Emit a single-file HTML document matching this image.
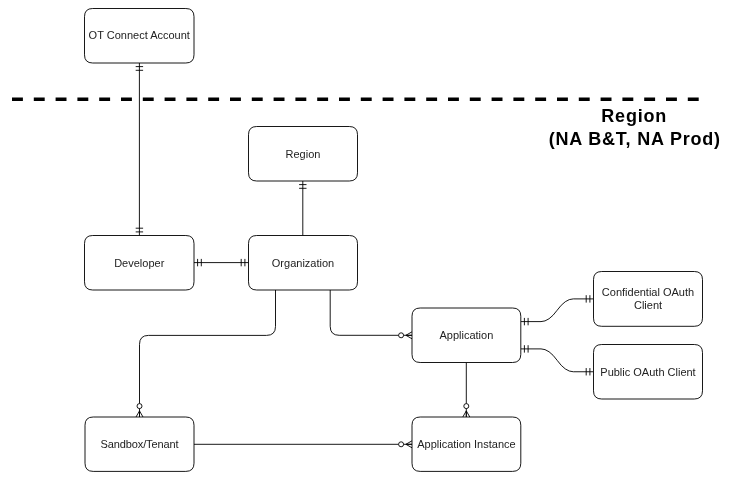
<!DOCTYPE html>
<html><head><meta charset="utf-8"><style>
html,body{margin:0;padding:0;background:#fff;width:729px;height:479px;overflow:hidden}
svg{display:block;will-change:transform}
text{font-family:"Liberation Sans",sans-serif;font-size:11px;fill:#222}
text.b{font-weight:bold;font-size:18px;letter-spacing:0.8px;fill:#000}
</style></head><body>
<svg width="729" height="479" viewBox="0 0 729 479">
<path d="M139.4,63 V235.5" fill="none" stroke="#000" stroke-width="0.91"/>
<path d="M143.10,66.60 L135.70,66.60 M143.10,70.30 L135.70,70.30 " fill="none" stroke="#000" stroke-width="0.91"/>
<path d="M135.70,231.90 L143.10,231.90 M135.70,228.20 L143.10,228.20 " fill="none" stroke="#000" stroke-width="0.91"/>
<path d="M302.8,181 V235.5" fill="none" stroke="#000" stroke-width="0.91"/>
<path d="M306.50,184.60 L299.10,184.60 M306.50,188.30 L299.10,188.30 " fill="none" stroke="#000" stroke-width="0.91"/>
<path d="M194,262.6 H248.5" fill="none" stroke="#000" stroke-width="0.91"/>
<path d="M197.60,258.90 L197.60,266.30 M201.30,258.90 L201.30,266.30 " fill="none" stroke="#000" stroke-width="0.91"/>
<path d="M244.90,266.30 L244.90,258.90 M241.20,266.30 L241.20,258.90 " fill="none" stroke="#000" stroke-width="0.91"/>
<path d="M275.5,290 V326.4 Q275.5,335.4 266.5,335.4 H148.5 Q139.5,335.4 139.5,344.4 V417" fill="none" stroke="#000" stroke-width="0.91"/>
<path d="M136.00,417.00 L139.50,410.90 L143.00,417.00 M139.50,410.90 L139.50,417.00" fill="none" stroke="#000" stroke-width="0.91"/>
<circle cx="139.50" cy="406.10" r="2.5" fill="#fff" stroke="#000" stroke-width="0.91"/>
<path d="M330.2,290 V326.3 Q330.2,335.3 339.2,335.3 H412" fill="none" stroke="#000" stroke-width="0.91"/>
<path d="M412.00,338.80 L405.90,335.30 L412.00,331.80 M405.90,335.30 L412.00,335.30" fill="none" stroke="#000" stroke-width="0.91"/>
<circle cx="401.10" cy="335.30" r="2.5" fill="#fff" stroke="#000" stroke-width="0.91"/>
<path d="M520.8,321.6 H541.00 Q549.00,321.6 557.15,310.25 Q565.30,298.9 573.30,298.9 H593.5" fill="none" stroke="#000" stroke-width="0.91"/>
<path d="M524.40,317.90 L524.40,325.30 M528.10,317.90 L528.10,325.30 " fill="none" stroke="#000" stroke-width="0.91"/>
<path d="M589.90,302.60 L589.90,295.20 M586.20,302.60 L586.20,295.20 " fill="none" stroke="#000" stroke-width="0.91"/>
<path d="M520.8,348.9 H541.00 Q549.00,348.9 557.15,360.32 Q565.30,371.75 573.30,371.75 H593.5" fill="none" stroke="#000" stroke-width="0.91"/>
<path d="M524.40,345.20 L524.40,352.60 M528.10,345.20 L528.10,352.60 " fill="none" stroke="#000" stroke-width="0.91"/>
<path d="M589.90,375.45 L589.90,368.05 M586.20,375.45 L586.20,368.05 " fill="none" stroke="#000" stroke-width="0.91"/>
<path d="M466.3,362.5 V417" fill="none" stroke="#000" stroke-width="0.91"/>
<path d="M462.80,417.00 L466.30,410.90 L469.80,417.00 M466.30,410.90 L466.30,417.00" fill="none" stroke="#000" stroke-width="0.91"/>
<circle cx="466.30" cy="406.10" r="2.5" fill="#fff" stroke="#000" stroke-width="0.91"/>
<path d="M194,444.3 H412" fill="none" stroke="#000" stroke-width="0.91"/>
<path d="M412.00,447.80 L405.90,444.30 L412.00,440.80 M405.90,444.30 L412.00,444.30" fill="none" stroke="#000" stroke-width="0.91"/>
<circle cx="401.10" cy="444.30" r="2.5" fill="#fff" stroke="#000" stroke-width="0.91"/>
<path d="M92.70,8.50 H185.80 Q194.00,8.50 194.00,16.70 V54.80 Q194.00,63.00 185.80,63.00 H92.70 Q84.50,63.00 84.50,54.80 V16.70 Q84.50,8.50 92.70,8.50 Z" fill="#fff" stroke="#000" stroke-width="0.91"/>
<text x="139.25" y="39.35" text-anchor="middle">OT Connect Account</text>
<path d="M256.70,126.50 H349.30 Q357.50,126.50 357.50,134.70 V172.80 Q357.50,181.00 349.30,181.00 H256.70 Q248.50,181.00 248.50,172.80 V134.70 Q248.50,126.50 256.70,126.50 Z" fill="#fff" stroke="#000" stroke-width="0.91"/>
<text x="303.00" y="157.65" text-anchor="middle">Region</text>
<path d="M92.70,235.50 H185.80 Q194.00,235.50 194.00,243.70 V281.80 Q194.00,290.00 185.80,290.00 H92.70 Q84.50,290.00 84.50,281.80 V243.70 Q84.50,235.50 92.70,235.50 Z" fill="#fff" stroke="#000" stroke-width="0.91"/>
<text x="139.25" y="266.65" text-anchor="middle">Developer</text>
<path d="M256.70,235.50 H349.30 Q357.50,235.50 357.50,243.70 V281.80 Q357.50,290.00 349.30,290.00 H256.70 Q248.50,290.00 248.50,281.80 V243.70 Q248.50,235.50 256.70,235.50 Z" fill="#fff" stroke="#000" stroke-width="0.91"/>
<text x="303.00" y="266.65" text-anchor="middle">Organization</text>
<path d="M601.70,271.50 H694.30 Q702.50,271.50 702.50,279.70 V318.10 Q702.50,326.30 694.30,326.30 H601.70 Q593.50,326.30 593.50,318.10 V279.70 Q593.50,271.50 601.70,271.50 Z" fill="#fff" stroke="#000" stroke-width="0.91"/>
<text x="648.00" y="296.30" text-anchor="middle">Confidential OAuth</text>
<text x="648.00" y="309.30" text-anchor="middle">Client</text>
<path d="M420.20,308.00 H512.60 Q520.80,308.00 520.80,316.20 V354.30 Q520.80,362.50 512.60,362.50 H420.20 Q412.00,362.50 412.00,354.30 V316.20 Q412.00,308.00 420.20,308.00 Z" fill="#fff" stroke="#000" stroke-width="0.91"/>
<text x="466.40" y="339.15" text-anchor="middle">Application</text>
<path d="M601.70,344.50 H694.30 Q702.50,344.50 702.50,352.70 V390.80 Q702.50,399.00 694.30,399.00 H601.70 Q593.50,399.00 593.50,390.80 V352.70 Q593.50,344.50 601.70,344.50 Z" fill="#fff" stroke="#000" stroke-width="0.91"/>
<text x="648.00" y="375.65" text-anchor="middle">Public OAuth Client</text>
<path d="M93.20,417.00 H185.80 Q194.00,417.00 194.00,425.20 V463.20 Q194.00,471.40 185.80,471.40 H93.20 Q85.00,471.40 85.00,463.20 V425.20 Q85.00,417.00 93.20,417.00 Z" fill="#fff" stroke="#000" stroke-width="0.91"/>
<text x="139.50" y="448.30" text-anchor="middle" letter-spacing="-0.12">Sandbox/Tenant</text>
<path d="M420.20,417.00 H512.60 Q520.80,417.00 520.80,425.20 V463.20 Q520.80,471.40 512.60,471.40 H420.20 Q412.00,471.40 412.00,463.20 V425.20 Q412.00,417.00 420.20,417.00 Z" fill="#fff" stroke="#000" stroke-width="0.91"/>
<text x="466.40" y="448.40" text-anchor="middle">Application Instance</text>
<path d="M12,99.2 H699" fill="none" stroke="#000" stroke-width="3.65" stroke-dasharray="10.9 10.9"/>
<text x="634.2" y="122.3" text-anchor="middle" class="b">Region</text>
<text x="634.8" y="144.6" text-anchor="middle" class="b">(NA B&amp;T, NA Prod)</text>
</svg>
</body></html>
